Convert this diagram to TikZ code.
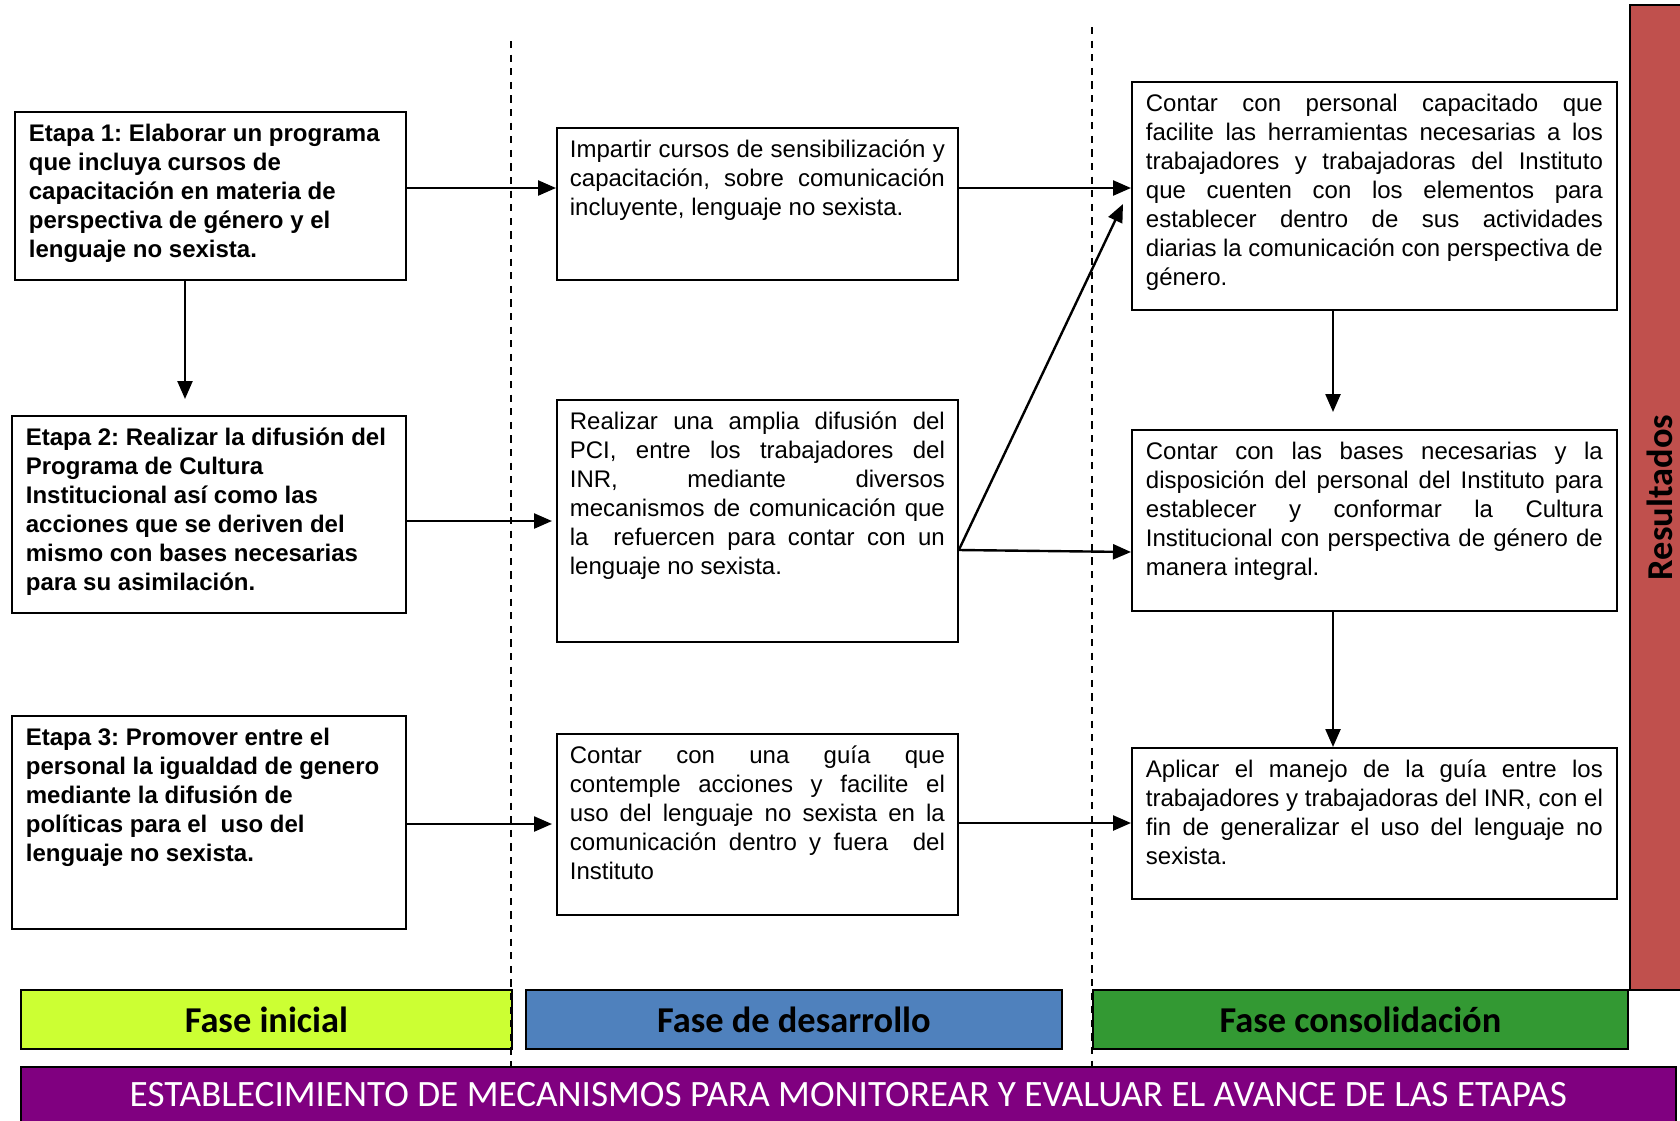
\documentclass[tikz,border=0pt]{standalone}
\usepackage{fontspec}
\setmainfont{Liberation Sans}
\newfontfamily\calfont{Carlito}
\usetikzlibrary{arrows.meta}
\definecolor{limec}{HTML}{CCFF33}
\definecolor{bluec}{HTML}{4F81BD}
\definecolor{greenc}{HTML}{339933}
\definecolor{purplec}{HTML}{800080}
\definecolor{redc}{HTML}{C0504D}
\frenchspacing
\newcommand\txtj[4]{\parbox[c][#2][t]{#1}{\fontsize{12pt}{14.45pt}\selectfont\frenchspacing\leftskip=#3\relax\rightskip=#3\relax\parfillskip=0pt plus 1fil\relax\tolerance=10000\hyphenpenalty=10000\rule{0pt}{15pt}#4}}
\newcommand\txtr[4]{\parbox[c][#2][t]{#1}{\fontsize{12pt}{14.45pt}\selectfont\bfseries\frenchspacing\leftskip=#3\relax\rightskip=#3 plus 1fil\relax\parfillskip=0pt plus 1fil\relax\hyphenpenalty=10000\rule{0pt}{15pt}#4}}
\tikzset{
  stagebox/.style={draw, line width=0.9pt, inner sep=0pt, anchor=north west},
  arr/.style={line width=1.2pt, -{Triangle[length=9pt,width=7.5pt]}},
  phase/.style={draw, line width=0.9pt, inner sep=0pt, anchor=north west, minimum height=29.5pt, font=\calfont\bfseries\fontsize{18.2pt}{20pt}\selectfont},
  divider/.style={dash pattern=on 3.6pt off 3.2pt, line width=1.1pt},
}
\begin{document}
\begin{tikzpicture}[x=0.5pt,y=-0.5pt]
\useasboundingbox (0,0) rectangle (1680,1120);
\fill[white] (0,0) rectangle (1680,1120);

% left column
\node[stagebox] (e1) at (14,111) {\txtr{195.5pt}{84pt}{7pt}{Etapa 1: Elaborar un programa\\ que incluya cursos de\\ capacitación en materia de\\ perspectiva de género y el\\ lenguaje no sexista.}};
\node[stagebox] (e2) at (11,415) {\txtr{197pt}{98.5pt}{7pt}{Etapa 2: Realizar la difusión del\\ Programa de Cultura\\ Institucional así como las\\ acciones que se deriven del\\ mismo con bases necesarias\\ para su asimilación.}};
\node[stagebox] (e3) at (11,715) {\txtr{197pt}{106.5pt}{7pt}{Etapa 3: Promover entre el\\ personal la igualdad de genero\\ mediante la difusión de\\ políticas para el\ \ uso del\\ lenguaje no sexista.}};

% middle column
\node[stagebox] (m1) at (556,127) {\txtj{200.5pt}{76pt}{6.5pt}{Impartir cursos de sensibilización y\linebreak capacitación, sobre comunicación\linebreak incluyente, lenguaje no sexista.}};
\node[stagebox] (m2) at (556,399) {\txtj{200.5pt}{121pt}{6.5pt}{Realizar una amplia difusión del\linebreak PCI, entre los trabajadores del\linebreak INR, mediante diversos\linebreak mecanismos de comunicación que\linebreak la\ \ refuercen para contar con un\linebreak lenguaje no sexista.}};
\node[stagebox] (m3) at (556,733) {\txtj{200.5pt}{90.5pt}{6.5pt}{Contar con una guía que\linebreak contemple acciones y facilite el\linebreak uso del lenguaje no sexista en la\linebreak comunicación dentro y fuera\ \ del\linebreak Instituto}};

% right column
\node[stagebox] (r1) at (1131,81) {\txtj{242.5pt}{114pt}{7pt}{Contar con personal capacitado que\linebreak facilite las herramientas necesarias a los\linebreak trabajadores y trabajadoras del Instituto\linebreak que cuenten con los elementos para\linebreak establecer dentro de sus actividades\linebreak diarias la comunicación con perspectiva de\linebreak género.}};
\node[stagebox] (r2) at (1131,429) {\txtj{242.5pt}{90.5pt}{7pt}{Contar con las bases necesarias y la\linebreak disposición del personal del Instituto para\linebreak establecer y conformar la Cultura\linebreak Institucional con perspectiva de género de\linebreak manera integral.}};
\node[stagebox] (r3) at (1131,747) {\txtj{242.5pt}{75.5pt}{7pt}{Aplicar el manejo de la guía entre los\linebreak trabajadores y trabajadoras del INR, con el\linebreak fin de generalizar el uso del lenguaje no\linebreak sexista.}};

% results bar
\node[draw, line width=0.9pt, fill=redc, inner sep=0pt, rotate=90, minimum width=492.5pt, minimum height=30pt, font=\calfont\bfseries\fontsize{18.2pt}{20pt}\selectfont] (res) at (1660,497.5) {Resultados};

% phase bars
\node[phase, fill=limec, minimum width=245.5pt] (f1) at (20,989) {Fase inicial};
\node[phase, fill=bluec, minimum width=268pt] (f2) at (525,989) {Fase de desarrollo};
\node[phase, fill=greenc, minimum width=267.5pt] (f3) at (1092,989) {Fase consolidación};
\node[draw, line width=0.9pt, fill=purplec, inner sep=0pt, anchor=north west, minimum width=827.5pt, minimum height=28pt, text=white, font=\calfont\fontsize{18.6pt}{20pt}\selectfont] (mon) at (20,1066) {ESTABLECIMIENTO DE MECANISMOS PARA MONITOREAR Y EVALUAR EL AVANCE DE LAS ETAPAS};

% helper coordinates
\coordinate (row1) at (0,188);
\coordinate (row2) at (0,521);
\coordinate (row3) at (0,824);
\coordinate (row2s) at (0,550);
\coordinate (row2e) at (0,552);
\coordinate (row3r) at (0,823);
\coordinate (colL) at (185,0);
\coordinate (colR) at (1333,0);
\coordinate (e2top) at (185,399);
\coordinate (r2top) at (1333,412);
\coordinate (diagend) at (1123,204);

% connectors
\draw[arr] (e1.east |- row1) -- (m1.west |- row1);
\draw[arr] (e1.south -| colL) -- (e2top);
\draw[arr, shorten >=2pt] (e2.east |- row2) -- (m2.west |- row2);
\draw[arr, shorten >=2pt] (e3.east |- row3) -- (m3.west |- row3);
\draw[arr] (m1.east |- row1) -- (r1.west |- row1);
\draw[arr] (m2.east |- row2s) -- (diagend);
\draw[arr] (m2.east |- row2s) -- (r2.west |- row2e);
\draw[arr] (m3.east |- row3r) -- (r3.west |- row3r);
\draw[arr] (r1.south -| colR) -- (r2top);
\draw[arr] (r2.south -| colR) -- (r3.north -| colR);

% dashed dividers
\coordinate (d1t) at (511,41);
\coordinate (d1b) at (511,1072);
\coordinate (d2t) at (1092,27);
\coordinate (d2b) at (1092,1072);
\draw[divider] (d1t) -- (d1b);
\draw[divider] (d2t) -- (d2b);
\end{tikzpicture}
\end{document}
